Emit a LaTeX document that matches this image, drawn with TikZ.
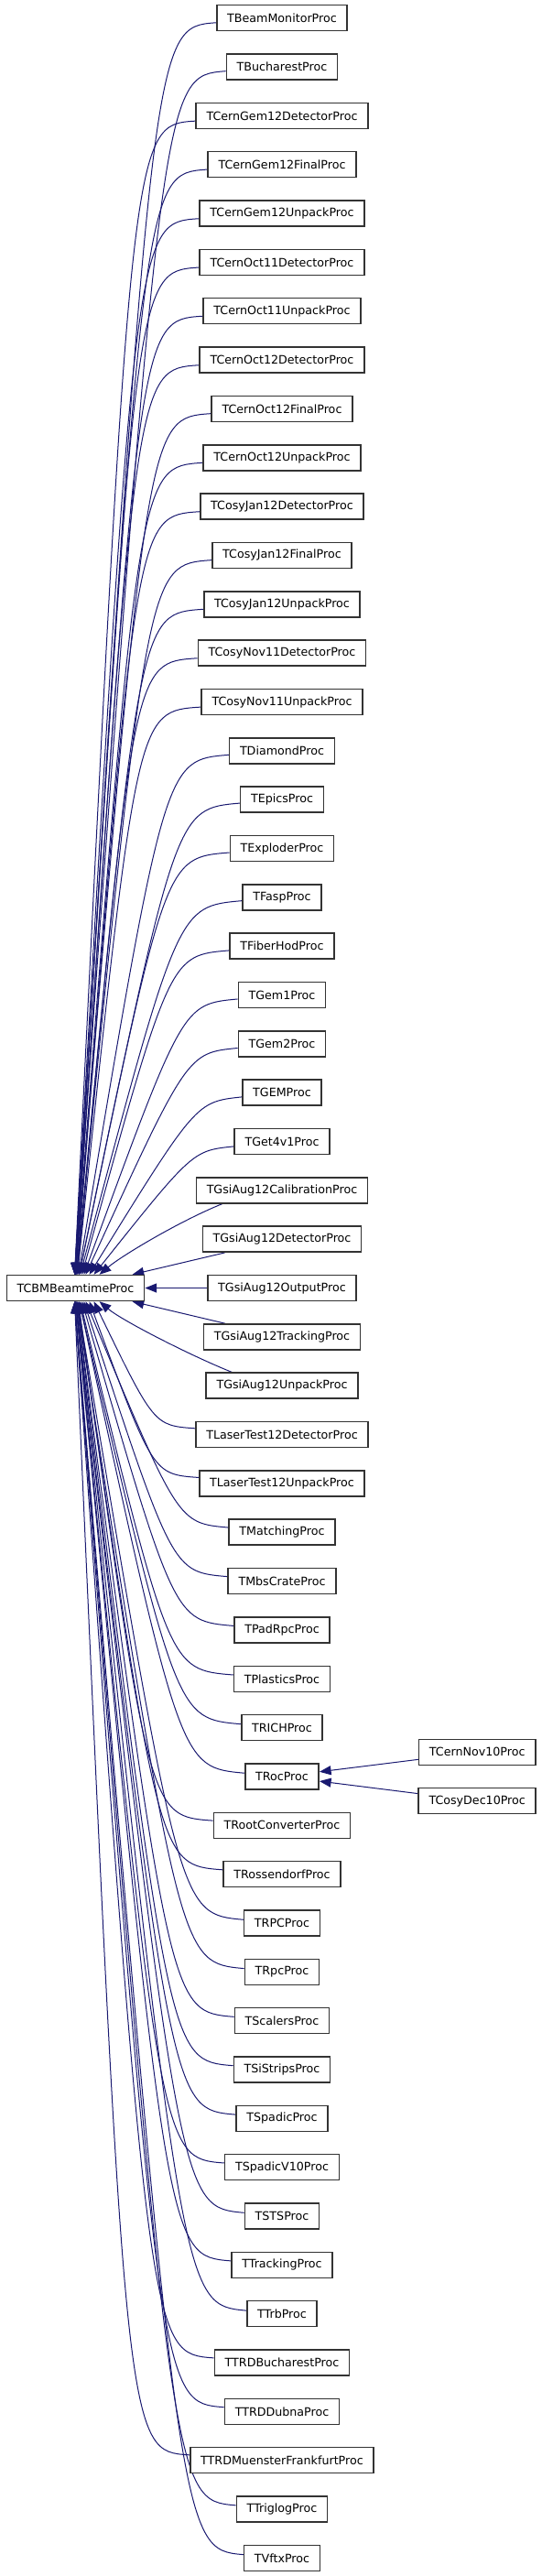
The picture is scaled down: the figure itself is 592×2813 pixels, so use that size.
\documentclass[tikz,border=0pt]{standalone}
\usepackage{fontspec}
\setmainfont{DejaVu Sans}
\usetikzlibrary{arrows.meta,calc,backgrounds}
\definecolor{midnight}{RGB}{25,25,112}
\begin{document}
\begin{tikzpicture}[x=0.75pt,y=-0.75pt,
  proc/.style={draw=black!80,line width=1.1pt,fill=white,minimum height=21pt,
    inner xsep=8.5pt,inner ysep=0pt,font=\fontsize{9.5}{11}\selectfont},
  inh/.style={draw=midnight,line width=0.75pt,{Triangle[length=9.5pt,width=7.5pt]}-}]
\useasboundingbox (0,0) rectangle (592,2813);
% base class
\node[proc,at={(82.5,1406.5)}] (base) {TCBMBeamtimeProc};
% derived classes
\node[proc,at={(308,19.7)}] (bmon) {TBeamMonitorProc};
\node[proc,at={(308,73.0)}] (buch) {TBucharestProc};
\node[proc,at={(308,126.4)}] (cg12det) {TCernGem12DetectorProc};
\node[proc,at={(308,179.7)}] (cg12fin) {TCernGem12FinalProc};
\node[proc,at={(308,233.1)}] (cg12unp) {TCernGem12UnpackProc};
\node[proc,at={(308,286.4)}] (co11det) {TCernOct11DetectorProc};
\node[proc,at={(308,339.7)}] (co11unp) {TCernOct11UnpackProc};
\node[proc,at={(308,393.1)}] (co12det) {TCernOct12DetectorProc};
\node[proc,at={(308,446.4)}] (co12fin) {TCernOct12FinalProc};
\node[proc,at={(308,499.8)}] (co12unp) {TCernOct12UnpackProc};
\node[proc,at={(308,553.1)}] (cj12det) {TCosyJan12DetectorProc};
\node[proc,at={(308,606.4)}] (cj12fin) {TCosyJan12FinalProc};
\node[proc,at={(308,659.8)}] (cj12unp) {TCosyJan12UnpackProc};
\node[proc,at={(308,713.1)}] (cn11det) {TCosyNov11DetectorProc};
\node[proc,at={(308,766.5)}] (cn11unp) {TCosyNov11UnpackProc};
\node[proc,at={(308,819.8)}] (diamond) {TDiamondProc};
\node[proc,at={(308,873.1)}] (epics) {TEpicsProc};
\node[proc,at={(308,926.5)}] (exploder) {TExploderProc};
\node[proc,at={(308,979.8)}] (fasp) {TFaspProc};
\node[proc,at={(308,1033.2)}] (fiberhod) {TFiberHodProc};
\node[proc,at={(308,1086.5)}] (gem1) {TGem1Proc};
\node[proc,at={(308,1139.8)}] (gem2) {TGem2Proc};
\node[proc,at={(308,1193.2)}] (gem) {TGEMProc};
\node[proc,at={(308,1246.5)}] (get4) {TGet4v1Proc};
\node[proc,at={(308,1299.9)}] (ga12cal) {TGsiAug12CalibrationProc};
\node[proc,at={(308,1353.2)}] (ga12det) {TGsiAug12DetectorProc};
\node[proc,at={(308,1406.5)}] (ga12out) {TGsiAug12OutputProc};
\node[proc,at={(308,1459.9)}] (ga12trk) {TGsiAug12TrackingProc};
\node[proc,at={(308,1513.2)}] (ga12unp) {TGsiAug12UnpackProc};
\node[proc,at={(308,1566.6)}] (lt12det) {TLaserTest12DetectorProc};
\node[proc,at={(308,1619.9)}] (lt12unp) {TLaserTest12UnpackProc};
\node[proc,at={(308,1673.2)}] (matching) {TMatchingProc};
\node[proc,at={(308,1726.6)}] (mbscrate) {TMbsCrateProc};
\node[proc,at={(308,1779.9)}] (padrpc) {TPadRpcProc};
\node[proc,at={(308,1833.3)}] (plastics) {TPlasticsProc};
\node[proc,at={(308,1886.6)}] (rich) {TRICHProc};
\node[proc,at={(308,1939.9)}] (roc) {TRocProc};
\node[proc,at={(308,1993.3)}] (rootconv) {TRootConverterProc};
\node[proc,at={(308,2046.6)}] (rossendorf) {TRossendorfProc};
\node[proc,at={(308,2100.0)}] (rpcu) {TRPCProc};
\node[proc,at={(308,2153.3)}] (rpc) {TRpcProc};
\node[proc,at={(308,2206.6)}] (scalers) {TScalersProc};
\node[proc,at={(308,2260.0)}] (sistrips) {TSiStripsProc};
\node[proc,at={(308,2313.3)}] (spadic) {TSpadicProc};
\node[proc,at={(308,2366.7)}] (spadic10) {TSpadicV10Proc};
\node[proc,at={(308,2420.0)}] (sts) {TSTSProc};
\node[proc,at={(308,2473.3)}] (tracking) {TTrackingProc};
\node[proc,at={(308,2526.7)}] (trb) {TTrbProc};
\node[proc,at={(308,2580.0)}] (trdbuch) {TTRDBucharestProc};
\node[proc,at={(308,2633.4)}] (trddubna) {TTRDDubnaProc};
\node[proc,at={(308,2686.7)}] (trdmf) {TTRDMuensterFrankfurtProc};
\node[proc,at={(308,2740.0)}] (triglog) {TTriglogProc};
\node[proc,at={(308,2793.4)}] (vftx) {TVftxProc};
% derived from TRocProc
\node[proc,at={(521.2,1913.3)}] (cernnov10) {TCernNov10Proc};
\node[proc,at={(521.2,1966.7)}] (cosydec10) {TCosyDec10Proc};
\begin{pgfonlayer}{background}
% inheritance above the base
\draw[inh] ($(base.north west)+(75,0)$) .. controls ($(bmon.west)+(-70,10)$) .. (bmon);
\draw[inh] ($(base.north west)+(75,0)$) .. controls ($(buch.west)+(-70,10)$) .. (buch);
\draw[inh] ($(base.north west)+(75,0)$) .. controls ($(cg12det.west)+(-70,10)$) .. (cg12det);
\draw[inh] ($(base.north west)+(75,0)$) .. controls ($(cg12fin.west)+(-70,10)$) .. (cg12fin);
\draw[inh] ($(base.north west)+(75,0)$) .. controls ($(cg12unp.west)+(-70,10)$) .. (cg12unp);
\draw[inh] ($(base.north west)+(76,0)$) .. controls ($(co11det.west)+(-70,10)$) .. (co11det);
\draw[inh] ($(base.north west)+(76,0)$) .. controls ($(co11unp.west)+(-70,10)$) .. (co11unp);
\draw[inh] ($(base.north west)+(76,0)$) .. controls ($(co12det.west)+(-70,10)$) .. (co12det);
\draw[inh] ($(base.north west)+(76,0)$) .. controls ($(co12fin.west)+(-70,10)$) .. (co12fin);
\draw[inh] ($(base.north west)+(76,0)$) .. controls ($(co12unp.west)+(-70,10)$) .. (co12unp);
\draw[inh] ($(base.north west)+(77,0)$) .. controls ($(cj12det.west)+(-70,10)$) .. (cj12det);
\draw[inh] ($(base.north west)+(77,0)$) .. controls ($(cj12fin.west)+(-70,10)$) .. (cj12fin);
\draw[inh] ($(base.north west)+(77,0)$) .. controls ($(cj12unp.west)+(-70,10)$) .. (cj12unp);
\draw[inh] ($(base.north west)+(78,0)$) .. controls ($(cn11det.west)+(-70,10)$) .. (cn11det);
\draw[inh] ($(base.north west)+(78,0)$) .. controls ($(cn11unp.west)+(-70,10)$) .. (cn11unp);
\draw[inh] ($(base.north west)+(79,0)$) .. controls ($(diamond.west)+(-70,10)$) .. (diamond);
\draw[inh] ($(base.north west)+(80,0)$) .. controls ($(epics.west)+(-70,10)$) .. (epics);
\draw[inh] ($(base.north west)+(80,0)$) .. controls ($(exploder.west)+(-70,10)$) .. (exploder);
\draw[inh] ($(base.north west)+(81,0)$) .. controls ($(fasp.west)+(-70,10)$) .. (fasp);
\draw[inh] ($(base.north west)+(83,0)$) .. controls ($(fiberhod.west)+(-65,10)$) .. (fiberhod);
\draw[inh] ($(base.north west)+(85,0)$) .. controls ($(gem1.west)+(-60,10)$) .. (gem1);
\draw[inh] ($(base.north west)+(87,0)$) .. controls ($(gem2.west)+(-55,10)$) .. (gem2);
\draw[inh] ($(base.north west)+(91,0)$) .. controls ($(gem.west)+(-50,10)$) .. (gem);
\draw[inh] ($(base.north west)+(96,0)$) .. controls ($(get4.west)+(-45,10)$) .. (get4);
\draw[inh] ($(base.north west)+(102,0)$) .. controls +(25,-21) and +(-45,18) .. ($(ga12cal.south west)+(29,0)$);
\draw[inh] ($(base.north west)+(138,0)$) -- (ga12det);
\draw[inh] (base) -- (ga12out);
% inheritance below the base
\draw[inh] ($(base.south west)+(138,0)$) -- (ga12trk);
\draw[inh] ($(base.south west)+(102,0)$) .. controls +(25,21) and +(-45,-18) .. ($(ga12unp.north west)+(29,0)$);
\draw[inh] ($(base.south west)+(96,0)$) .. controls ($(lt12det.west)+(-45,-10)$) .. (lt12det);
\draw[inh] ($(base.south west)+(91,0)$) .. controls ($(lt12unp.west)+(-50,-10)$) .. (lt12unp);
\draw[inh] ($(base.south west)+(87,0)$) .. controls ($(matching.west)+(-55,-10)$) .. (matching);
\draw[inh] ($(base.south west)+(85,0)$) .. controls ($(mbscrate.west)+(-60,-10)$) .. (mbscrate);
\draw[inh] ($(base.south west)+(83,0)$) .. controls ($(padrpc.west)+(-65,-10)$) .. (padrpc);
\draw[inh] ($(base.south west)+(81,0)$) .. controls ($(plastics.west)+(-70,-10)$) .. (plastics);
\draw[inh] ($(base.south west)+(80,0)$) .. controls ($(rich.west)+(-70,-10)$) .. (rich);
\draw[inh] ($(base.south west)+(80,0)$) .. controls ($(roc.west)+(-70,-10)$) .. (roc);
\draw[inh] ($(base.south west)+(79,0)$) .. controls ($(rootconv.west)+(-70,-10)$) .. (rootconv);
\draw[inh] ($(base.south west)+(78,0)$) .. controls ($(rossendorf.west)+(-70,-10)$) .. (rossendorf);
\draw[inh] ($(base.south west)+(78,0)$) .. controls ($(rpcu.west)+(-70,-10)$) .. (rpcu);
\draw[inh] ($(base.south west)+(77,0)$) .. controls ($(rpc.west)+(-70,-10)$) .. (rpc);
\draw[inh] ($(base.south west)+(77,0)$) .. controls ($(scalers.west)+(-70,-10)$) .. (scalers);
\draw[inh] ($(base.south west)+(77,0)$) .. controls ($(sistrips.west)+(-70,-10)$) .. (sistrips);
\draw[inh] ($(base.south west)+(76,0)$) .. controls ($(spadic.west)+(-70,-10)$) .. (spadic);
\draw[inh] ($(base.south west)+(76,0)$) .. controls ($(spadic10.west)+(-70,-10)$) .. (spadic10);
\draw[inh] ($(base.south west)+(76,0)$) .. controls ($(sts.west)+(-70,-10)$) .. (sts);
\draw[inh] ($(base.south west)+(76,0)$) .. controls ($(tracking.west)+(-70,-10)$) .. (tracking);
\draw[inh] ($(base.south west)+(76,0)$) .. controls ($(trb.west)+(-70,-10)$) .. (trb);
\draw[inh] ($(base.south west)+(75,0)$) .. controls ($(trdbuch.west)+(-70,-10)$) .. (trdbuch);
\draw[inh] ($(base.south west)+(75,0)$) .. controls ($(trddubna.west)+(-70,-10)$) .. (trddubna);
\draw[inh] ($(base.south west)+(75,0)$) .. controls ($(trdmf.west)+(-70,-10)$) .. (trdmf);
\draw[inh] ($(base.south west)+(75,0)$) .. controls ($(triglog.west)+(-70,-10)$) .. (triglog);
\draw[inh] ($(base.south west)+(75,0)$) .. controls ($(vftx.west)+(-70,-10)$) .. (vftx);
% second level
\draw[inh] (roc) -- (cernnov10);
\draw[inh] (roc) -- (cosydec10);
\end{pgfonlayer}
\end{tikzpicture}
\end{document}
